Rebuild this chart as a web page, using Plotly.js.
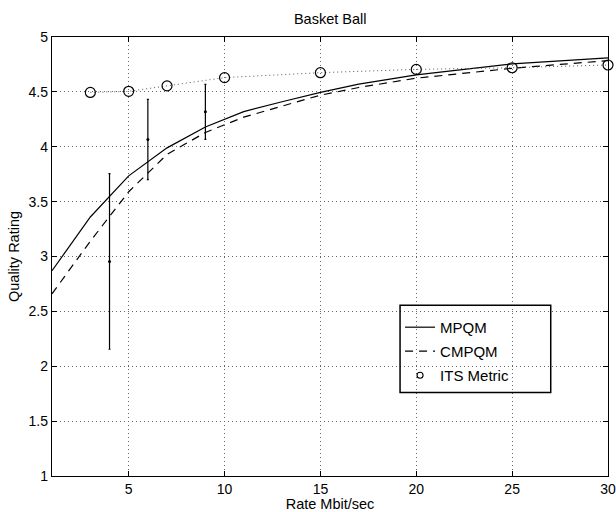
<!DOCTYPE html>
<html>
<head>
<meta charset="utf-8">
<script src="https://cdn.plot.ly/plotly-3.0.1.min.js"></script>
<style>html,body{margin:0;padding:0;background:#fff;}#chart{width:616px;height:512px;}</style>
</head>
<body>
<div id="chart"></div>
<script>
// Data
const rateCurve = [1, 3, 5, 7, 9, 11, 13, 15, 17, 20, 25, 30];
const mpqm      = [2.87, 3.36, 3.735, 3.99, 4.18, 4.32, 4.41, 4.495, 4.57, 4.655, 4.755, 4.81];
const cmpqm     = [2.66, 3.14, 3.59, 3.93, 4.13, 4.27, 4.37, 4.47, 4.54, 4.625, 4.715, 4.785];
const rateITS   = [3, 5, 7, 10, 15, 20, 25, 30];
const itsMetric = [4.495, 4.505, 4.555, 4.63, 4.675, 4.705, 4.72, 4.745];
const rateSubj  = [4, 6, 9];
const subjMean  = [2.955, 4.066, 4.318];
const subjErr   = [0.80, 0.365, 0.25];
const xTicks = [5, 10, 15, 20, 25, 30];
const yTicks = [1, 1.5, 2, 2.5, 3, 3.5, 4, 4.5, 5];

const font = "Liberation Sans, Arial, Helvetica, sans-serif";

const traces = [
  {x: rateCurve, y: mpqm, name: 'MPQM', mode: 'lines', type: 'scatter', legendgroup: 'a',
   line: {color: '#000', width: 1.2, dash: 'solid'}},
  {x: rateCurve, y: cmpqm, name: 'CMPQM', mode: 'lines', type: 'scatter', legendgroup: 'b',
   line: {color: '#000', width: 1.2, dash: '8px,6px'}},
  {x: rateITS, y: itsMetric, name: 'ITS dotted', mode: 'lines', type: 'scatter', showlegend: false,
   line: {color: '#555', width: 1, dash: '1px,3px'}},
  {x: rateITS, y: itsMetric, name: 'ITS Metric', mode: 'markers', type: 'scatter', cliponaxis: false,
   showlegend: false,
   marker: {symbol: 'circle-open', size: 10, color: '#000', line: {width: 1.2, color: '#000'}}},
  {x: [null], y: [null], name: 'ITS Metric', mode: 'markers', type: 'scatter', legendgroup: 'c',
   marker: {symbol: 'circle-open', size: 6, color: '#000', line: {width: 1.1, color: '#000'}}},
  {x: rateSubj, y: subjMean, name: 'subjective', mode: 'markers', type: 'scatter', showlegend: false,
   marker: {symbol: 'circle', size: 3, color: '#000'},
   error_y: {type: 'data', array: subjErr, visible: true, color: '#000', thickness: 1.2, width: 1}}
];

const gridStyle = {showgrid: true, gridcolor: '#666', griddash: '1px,3px', gridwidth: 1,
  zeroline: false, showline: true, linecolor: '#000', linewidth: 1.2, mirror: 'ticks',
  ticks: 'inside', ticklen: 5, tickcolor: '#000', tickwidth: 1,
  tickfont: {family: font, size: 14, color: '#000'}};

const layout = {
  width: 616, height: 512,
  margin: {l: 52, r: 8, t: 37, b: 36},
  paper_bgcolor: '#fff', plot_bgcolor: '#fff',
  font: {family: font, size: 14, color: '#000'},
  title: {text: 'Basket Ball', font: {family: font, size: 14.5, color: '#000'}, x: 0.536, xanchor: 'center', y: 0.963, yanchor: 'middle'},
  xaxis: Object.assign({}, gridStyle, {
    range: [1, 30], tickvals: xTicks, ticktext: xTicks.map(String),
    title: {text: 'Rate Mbit/sec', font: {family: font, size: 14.5, color: '#000'}, standoff: 4}
  }),
  yaxis: Object.assign({}, gridStyle, {
    range: [1, 5], tickvals: yTicks, ticktext: yTicks.map(String),
    title: {text: 'Quality Rating', font: {family: font, size: 14.5, color: '#000'}, standoff: 5}
  }),
  legend: {
    x: 0.626, y: 0.376, xanchor: 'left', yanchor: 'top',
    bgcolor: 'rgba(0,0,0,0)', borderwidth: 0,
    font: {family: font, size: 15, color: '#000'},
    traceorder: 'grouped', tracegroupgap: 1.5
  },
  shapes: [{type: 'rect', xref: 'paper', yref: 'paper', x0: 0.626, x1: 0.897, y0: 0.19, y1: 0.389,
            line: {color: '#000', width: 1.5}, fillcolor: 'rgba(0,0,0,0)'}],
  showlegend: true
};

Plotly.newPlot('chart', traces, layout, {displayModeBar: false, staticPlot: true});
</script>
</body>
</html>
